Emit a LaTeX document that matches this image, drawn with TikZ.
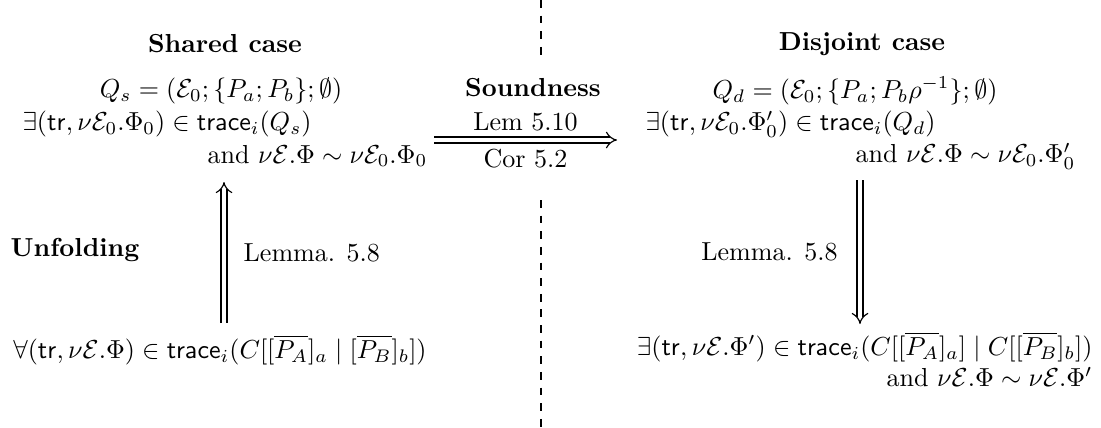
\documentclass[tikz,border=0pt]{standalone}
\usepackage{amsmath}
\usepackage{amssymb}
\usepackage{tikz}
\usetikzlibrary{
	positioning,
	arrows.meta,
	calc
}

\begin{document}
\begin{tikzpicture}[
	x=0.384pt, y=-0.384pt,
	casetitle/.style={font=\bfseries},
	implies/.style={double, double distance=1.8pt, line width=0.45pt, -{Implies[scale=1.3]}}
	]
				
				\useasboundingbox (0,0) rectangle (1101,428);
				
				% shared side
				\node[casetitle] (SharedTitle) at (225,44) {Shared case};
				\node (QShared) at (221,91) {$Q_s = (\mathcal{E}_0; \{P_a; P_b\}; \emptyset)$};
				\node[anchor=west, inner sep=0pt] (SharedEx) at (22,124) {$\exists(\mathsf{tr}, \nu\mathcal{E}_0.\Phi_0) \in \mathsf{trace}_i(Q_s)$};
				\node[anchor=west, inner sep=0pt] (SharedAnd) at (207,156) {and $\nu\mathcal{E}.\Phi \sim \nu\mathcal{E}_0.\Phi_0$};
				\node (AllTr) at (220,350) {$\forall(\mathsf{tr}, \nu\mathcal{E}.\Phi) \in \mathsf{trace}_i(C[[\overline{P_A}]_a \mid [\overline{P_B}]_b])$};
				\node[casetitle] (Unfolding) at (75,250) {Unfolding};
				
				% disjoint side
				\node[casetitle] (DisjointTitle) at (862,44) {Disjoint case};
				\node (QDisjoint) at (855,91) {$Q_d = (\mathcal{E}_0; \{P_a; P_b\rho^{-1}\}; \emptyset)$};
				\node[anchor=west, inner sep=0pt] (DisjointEx) at (645,124) {$\exists(\mathsf{tr}, \nu\mathcal{E}_0.\Phi'_0) \in \mathsf{trace}_i(Q_d)$};
				\node[anchor=west, inner sep=0pt] (DisjointAnd) at (855,156) {and $\nu\mathcal{E}.\Phi \sim \nu\mathcal{E}_0.\Phi'_0$};
				\node[anchor=east, inner sep=0pt] (ExTr) at (1093,347) {$\exists(\mathsf{tr}, \nu\mathcal{E}.\Phi') \in \mathsf{trace}_i(C[[\overline{P_A}]_a] \mid C[[\overline{P_B}]_b])$};
				\node[anchor=east, inner sep=0pt] (ExAnd) at (1093,377) {and $\nu\mathcal{E}.\Phi \sim \nu\mathcal{E}.\Phi'$};
				
				% soundness
				\node[casetitle] (Soundness) at (533,88) {Soundness};
				\coordinate (SoundStart) at (434,140);
				\coordinate (SoundEnd) at (617,140);
				\draw[implies] (SoundStart) -- node[above] (LemTen) {Lem 5.10} node[below] (CorTwo) {Cor 5.2} (SoundEnd);
				
				% the two lemma arrows
				\coordinate (LeftFoot) at (224,323);
				\coordinate (LeftHead) at (224,182);
				\coordinate (RightTop) at (860,180);
				\coordinate (RightFoot) at (860,324);
				\draw[implies] (LeftFoot) -- node[right=4pt] (LemLeft) {Lemma. 5.8} (LeftHead);
				\draw[implies] (RightTop) -- node[left=5pt] (LemRight) {Lemma. 5.8} (RightFoot);
				
				% separator
				\draw[dashed] (541,0) -- (541,62);
				\draw[dashed] (541,200) -- (541,428);
				
			\end{tikzpicture}
\end{document}
